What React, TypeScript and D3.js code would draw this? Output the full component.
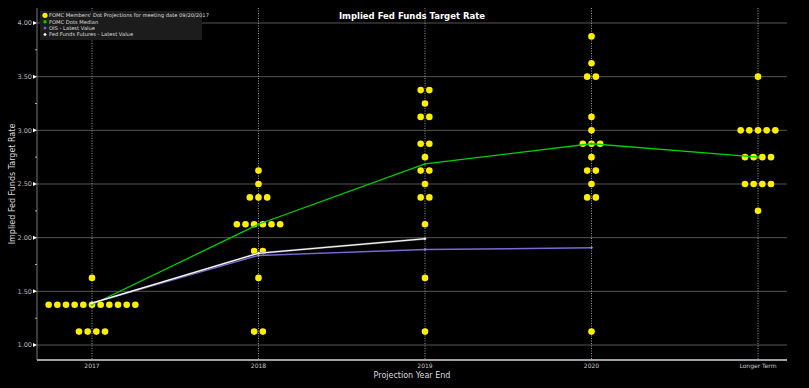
import React from "react";
import * as d3 from "d3";

const categories = ["2017", "2018", "2019", "2020", "Longer Term"];

// [rate, number of participants]
const dots2017: [number, number][] = [[1.625, 1], [1.375, 11], [1.125, 4]];
const dots2018: [number, number][] = [[2.625, 1], [2.5, 1], [2.375, 3], [2.125, 6], [1.875, 2], [1.625, 1], [1.125, 2]];
const dots2019: [number, number][] = [[3.375, 2], [3.25, 1], [3.125, 2], [2.875, 2], [2.75, 1], [2.625, 2], [2.5, 1], [2.375, 2], [2.125, 1], [1.625, 1], [1.125, 1]];
const dots2020: [number, number][] = [[3.875, 1], [3.625, 1], [3.5, 2], [3.125, 1], [3.0, 1], [2.875, 3], [2.75, 1], [2.625, 2], [2.5, 1], [2.375, 2], [1.125, 1]];
const dotsLonger: [number, number][] = [[3.5, 1], [3.0, 5], [2.75, 4], [2.5, 4], [2.25, 1]];
const dotsByCategory = [dots2017, dots2018, dots2019, dots2020, dotsLonger];

const medianValues = [1.375, 2.125, 2.6875, 2.875, 2.75];
const oisValues = [1.39, 1.835, 1.89, 1.905];
const futuresValues = [1.39, 1.855, 1.99];

const yTicks = [1.0, 1.5, 2.0, 2.5, 3.0, 3.5, 4.0];
const yMinorTicks = [1.25, 1.75, 2.25, 2.75, 3.25, 3.75];

const legendItems = [
  { label: "FOMC Members' Dot Projections for meeting date 09/20/2017", kind: "dot", color: "#ffee00" },
  { label: "FOMC Dots Median", kind: "circle", color: "#00c800" },
  { label: "OIS - Latest Value", kind: "diamond", color: "#7b68d8" },
  { label: "Fed Funds Futures - Latest Value", kind: "diamond", color: "#ffffff" },
];

const W = 809;
const H = 388;
const left = 37;
const right = 787;
const top = 8;
const bottom = 360;
const FONT = "'DejaVu Sans', Verdana, sans-serif";

export default function App() {
  const x = d3.scalePoint<string>().domain(categories).range([92, 758]).padding(0);
  const y = d3.scaleLinear().domain([1, 4]).range([345, 23]);
  const dotGap = 8.67;

  const line = d3
    .line<number>()
    .x((_, i) => x(categories[i]) as number)
    .y((d) => y(d));

  const diamond = (cx: number, cy: number, s: number) =>
    `M${cx},${cy - s}L${cx + s},${cy}L${cx},${cy + s}L${cx - s},${cy}Z`;

  return (
    <svg
      width={W}
      height={H}
      style={{ position: "fixed", left: 0, top: 0, background: "#000" }}
      fontFamily={FONT}
    >
      <rect x={0} y={0} width={W} height={H} fill="#000" />
      {/* horizontal grid */}
      {yTicks.map((t) => (
        <line key={"g" + t} x1={left} x2={right} y1={y(t)} y2={y(t)} stroke="#555" strokeWidth={1} />
      ))}
      {/* vertical dotted grid */}
      {categories.map((c) => (
        <line
          key={"v" + c}
          x1={x(c)}
          x2={x(c)}
          y1={top}
          y2={bottom}
          stroke="#9a9a9a"
          strokeWidth={1}
          strokeDasharray="1,1.5"
        />
      ))}
      {/* axes */}
      <line x1={left} x2={left} y1={top} y2={bottom} stroke="#777" strokeWidth={1} />
      <line x1={left} x2={right} y1={bottom} y2={bottom} stroke="#a0a0a0" strokeWidth={2} />
      {/* y ticks */}
      {yTicks.map((t) => (
        <g key={"yt" + t}>
          <path d={`M${left - 4},${y(t) - 2}L${left},${y(t)}L${left - 4},${y(t) + 2}Z`} fill="#fff" />
          <text x={left - 5} y={y(t) + 2.3} fontSize={6.5} fill="#bbb" textAnchor="end">
            {t.toFixed(2)}
          </text>
        </g>
      ))}
      {yMinorTicks.map((t) => (
        <line key={"ym" + t} x1={left - 2} x2={left} y1={y(t)} y2={y(t)} stroke="#aaa" strokeWidth={1} />
      ))}
      {/* x tick labels */}
      {categories.map((c) => (
        <text key={"xt" + c} x={x(c)} y={368} fontSize={6} fill="#ccc" textAnchor="middle">
          {c}
        </text>
      ))}
      <text x={412} y={377.5} fontSize={8} fill="#ddd" textAnchor="middle">
        Projection Year End
      </text>
      <text
        transform={`translate(15,${(y(4) + y(1)) / 2}) rotate(-90)`}
        fontSize={8}
        fill="#ddd"
        textAnchor="middle"
      >
        Implied Fed Funds Target Rate
      </text>
      <text x={412} y={19} fontSize={8.5} fontWeight="bold" fill="#fff" textAnchor="middle">
        Implied Fed Funds Target Rate
      </text>
      {/* dots */}
      {dotsByCategory.map((groups, ci) =>
        groups.map(([rate, n]) =>
          d3.range(n).map((i) => (
            <circle
              key={`d${ci}-${rate}-${i}`}
              cx={(x(categories[ci]) as number) + (i - (n - 1) / 2) * dotGap}
              cy={y(rate)}
              r={3.3}
              fill="#ffee00"
            />
          ))
        )
      )}
      {/* lines */}
      <path d={line(medianValues) || ""} fill="none" stroke="#00d000" strokeWidth={1.3} />
      {medianValues.map((v, i) => (
        <path key={"mm" + i} d={diamond(x(categories[i]) as number, y(v), 1.5)} fill="#00c000" />
      ))}
      <path d={line(oisValues) || ""} fill="none" stroke="#7b68d8" strokeWidth={1.5} />
      {oisValues.map((v, i) => (
        <path key={"om" + i} d={diamond(x(categories[i]) as number, y(v), 1.5)} fill="#9a8ae8" />
      ))}
      <path d={line(futuresValues) || ""} fill="none" stroke="#777" strokeWidth={2} />
      <path d={line(futuresValues) || ""} fill="none" stroke="#fff" strokeWidth={1.1} />
      {futuresValues.map((v, i) => (
        <path key={"fm" + i} d={diamond(x(categories[i]) as number, y(v), 1.6)} fill="#fff" />
      ))}
      {/* legend */}
      <rect x={40} y={11} width={162} height={29} fill="#1c1c1c" />
      {legendItems.map((it, i) => {
        const ly = 15.3 + i * 6.4;
        return (
          <g key={"lg" + i}>
            {it.kind === "dot" && <circle cx={45} cy={ly} r={2.6} fill={it.color} />}
            {it.kind === "circle" && <circle cx={45} cy={ly} r={1.7} fill={it.color} />}
            {it.kind === "diamond" && <path d={diamond(45, ly, 1.7)} fill={it.color} />}
            <text x={49} y={ly + 1.8} fontSize={5.2} fill="#ddd">
              {it.label}
            </text>
          </g>
        );
      })}
    </svg>
  );
}
